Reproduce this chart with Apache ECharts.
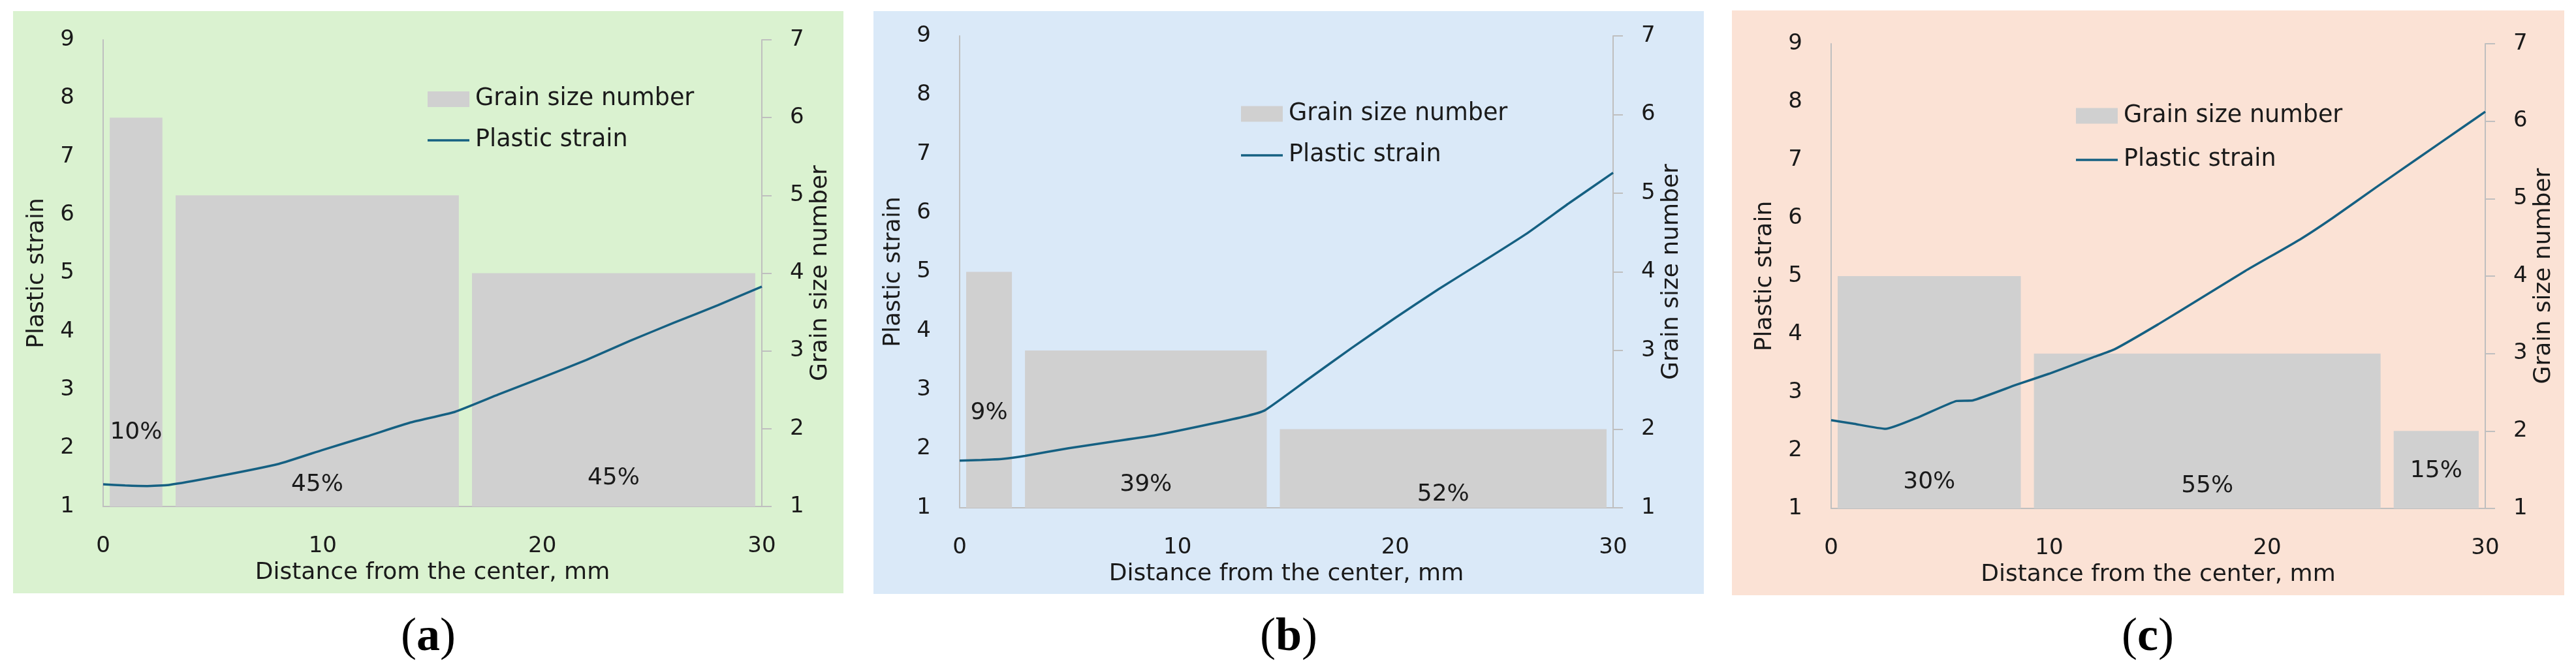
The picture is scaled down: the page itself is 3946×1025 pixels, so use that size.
<!DOCTYPE html>
<html><head><meta charset="utf-8">
<script src="https://cdn.jsdelivr.net/npm/echarts@6/dist/echarts.min.js"></script>
<style>html,body{margin:0;padding:0;background:#fff}#c{width:3946px;height:1025px}</style>
</head><body><div id="c"></div>
<script>
// ---------- data ----------
const xTickStep = 10;            // distance axis ticks: 0,10,20,30
const strainRange = [1, 9];      // left axis
const grainRange = [1, 7];       // right axis

// Panel (a)
const edgesA = [0, 3, 16.5, 30];
const grainA = [6, 5, 4];
const shareA = ['10%', '45%', '45%'];
const distA = [0, 1, 2, 3, 5, 8, 10, 12, 14, 16, 18, 20, 22, 24, 26, 28, 30];
const strainA = [1.38, 1.36, 1.35, 1.37, 1.5, 1.73, 1.97, 2.2, 2.44, 2.62, 2.92, 3.21, 3.51, 3.84, 4.15, 4.45, 4.77];

// Panel (b)
const edgesB = [0, 2.7, 14.4, 30];
const grainB = [4, 3, 2];
const shareB = ['9%', '39%', '52%'];
const distB = [0, 1, 2, 3, 5, 7, 9, 11, 13, 14, 16, 18, 20, 22, 24, 26, 28, 30];
const strainB = [1.80, 1.81, 1.83, 1.88, 2.01, 2.12, 2.23, 2.38, 2.54, 2.65, 3.18, 3.71, 4.22, 4.71, 5.17, 5.64, 6.17, 6.68];

// Panel (c)
const edgesC = [0, 9, 25.5, 30];
const grainC = [4, 3, 2];
const shareC = ['30%', '55%', '15%'];
const distC = [0, 1, 2.5, 4, 5.75, 6.5, 8.5, 10, 12, 13, 15, 17, 19, 21.5, 23, 25, 27, 29, 30];
const strainC = [2.52, 2.46, 2.37, 2.57, 2.85, 2.86, 3.13, 3.32, 3.6, 3.74, 4.17, 4.63, 5.09, 5.63, 6.0, 6.53, 7.05, 7.57, 7.83];

const captions = ['a', 'b', 'c'];
const nameBar = 'Grain size number';
const nameLine = 'Plastic strain';
const nameX = 'Distance from the center, mm';

// ---------- layout / style (not data) ----------
const FONT = '"DejaVu Sans", Lato, sans-serif';
const TXT = '#1a1a1a';
const AXIS = '#BFBFBF';
const BAR = '#D0D0D0';
const LINE = '#156082';
const TICK_FS = 34, TITLE_FS = 36, LEG_FS = 36.5, PCT_FS = 36;
const panels = [
  { bg: '#DAF2D0', box: [20, 17, 1292, 909], grid: { left: 158, top: 61, width: 1009, height: 715 },
    legend: { left: 650, top: 125, gap: 19 }, labelLevel: [1.95, 1.28, 1.36], capX: 656,
    edges: edgesA, grain: grainA, share: shareA, dist: distA, strain: strainA },
  { bg: '#DAE9F8', box: [1338, 17, 2610, 910], grid: { left: 1470, top: 55, width: 1001, height: 723 },
    legend: { left: 1896, top: 147.5, gap: 19.5 }, labelLevel: [2.21, 1.29, 1.17], capX: 1974,
    edges: edgesB, grain: grainB, share: shareB, dist: distB, strain: strainB },
  { bg: '#FBE2D5', box: [2653, 16, 3928, 912], grid: { left: 2805, top: 67, width: 1002, height: 712 },
    legend: { left: 3175, top: 150.5, gap: 23.5 }, labelLevel: [1.34, 1.29, 1.48], capX: 3290,
    edges: edgesC, grain: grainC, share: shareC, dist: distC, strain: strainC }
];

const chart = echarts.init(document.getElementById('c'), null, { renderer: 'canvas' });
const grid = [], xAxis = [], yAxis = [], series = [], legend = [], graphic = [];

panels.forEach((P, i) => {
  graphic.push({ type: 'rect', z: -10, shape: { x: P.box[0], y: P.box[1], width: P.box[2] - P.box[0], height: P.box[3] - P.box[1] }, style: { fill: P.bg } });
  graphic.push({ type: 'text', x: P.capX, y: 977, style: {
      text: '{n|(}{b|' + captions[i] + '}{n|)}', align: 'center', verticalAlign: 'middle',
      rich: { n: { fontFamily: '"Liberation Serif", "DejaVu Serif", serif', fontSize: 72, fill: '#000' },
              b: { fontFamily: '"Liberation Serif", "DejaVu Serif", serif', fontSize: 72, fontWeight: 'bold', fill: '#000' } } } });
  grid.push(Object.assign({ containLabel: false }, P.grid));
  xAxis.push({ gridIndex: i, type: 'value', min: 0, max: 30, interval: xTickStep,
    axisLine: { show: true, onZero: false, lineStyle: { color: AXIS, width: 2 } },
    axisTick: { show: false }, splitLine: { show: false },
    axisLabel: { margin: 44, fontSize: TICK_FS, color: TXT, fontFamily: FONT },
    name: nameX, nameLocation: 'middle', nameGap: 84,
    nameTextStyle: { fontSize: TITLE_FS, color: TXT, fontFamily: FONT } });
  yAxis.push({ gridIndex: i, type: 'value', position: 'left', min: strainRange[0], max: strainRange[1], interval: 1,
    axisLine: { show: true, lineStyle: { color: AXIS, width: 2 } },
    axisTick: { show: false }, splitLine: { show: false },
    axisLabel: { margin: 44, fontSize: TICK_FS, color: TXT, fontFamily: FONT },
    name: nameLine, nameLocation: 'middle', nameGap: 83, nameRotate: 90,
    nameTextStyle: { fontSize: TITLE_FS, color: TXT, fontFamily: FONT } });
  yAxis.push({ gridIndex: i, type: 'value', position: 'right', min: grainRange[0], max: grainRange[1], interval: 1,
    axisLine: { show: true, lineStyle: { color: AXIS, width: 2 } },
    axisTick: { show: true, inside: false, length: 15, lineStyle: { color: AXIS, width: 2 } }, splitLine: { show: false },
    axisLabel: { margin: 43, fontSize: TICK_FS, color: TXT, fontFamily: FONT },
    name: nameBar, nameLocation: 'middle', nameGap: 72, nameRotate: 90,
    nameTextStyle: { fontSize: TITLE_FS, color: TXT, fontFamily: FONT } });

  const barData = P.grain.map((g, k) => [P.edges[k], P.edges[k + 1], g]);
  series.push({ type: 'custom', name: nameBar, xAxisIndex: i, yAxisIndex: 2 * i + 1,
    itemStyle: { color: BAR }, encode: { x: [0, 1], y: 2 }, data: barData, z: 2,
    renderItem: (params, api) => {
      const k = params.dataIndex;
      const x0 = api.value(0), x1 = api.value(1), g = api.value(2);
      const inset = 0.3;
      const p0 = api.coord([x0 + inset, g]);
      const p1 = api.coord([x1 - inset, grainRange[0]]);
      const lp = api.coord([(x0 + x1) / 2, P.labelLevel[k]]);
      return { type: 'group', children: [
        { type: 'rect', shape: { x: p0[0], y: p0[1], width: p1[0] - p0[0], height: p1[1] - p0[1] }, style: { fill: BAR } },
        { type: 'text', x: lp[0], y: lp[1], z2: 10, style: { text: P.share[k], fill: TXT, fontSize: PCT_FS, fontFamily: FONT, align: 'center', verticalAlign: 'middle' } }
      ] };
    } });
  series.push({ type: 'line', name: nameLine, xAxisIndex: i, yAxisIndex: 2 * i, z: 3,
    data: P.dist.map((d, k) => [d, P.strain[k]]), symbol: 'none', smooth: 0.15,
    lineStyle: { color: LINE, width: 3.5 }, itemStyle: { color: LINE } });
  legend.push({ orient: 'vertical', left: P.legend.left, top: P.legend.top, itemGap: P.legend.gap,
    itemWidth: 64, itemHeight: 24, selectedMode: false,
    textStyle: { fontSize: LEG_FS, color: TXT, fontFamily: FONT, lineHeight: 44, padding: [0, 0, 0, 4] },
    data: [
      { name: nameBar, icon: 'rect', itemStyle: { color: BAR } },
      { name: nameLine, icon: 'path://M0,0H64V3.5H0Z', itemStyle: { color: LINE } }
    ] });
});

chart.setOption({ animation: false, backgroundColor: '#fff', grid, xAxis, yAxis, series, legend, graphic });
</script></body></html>
